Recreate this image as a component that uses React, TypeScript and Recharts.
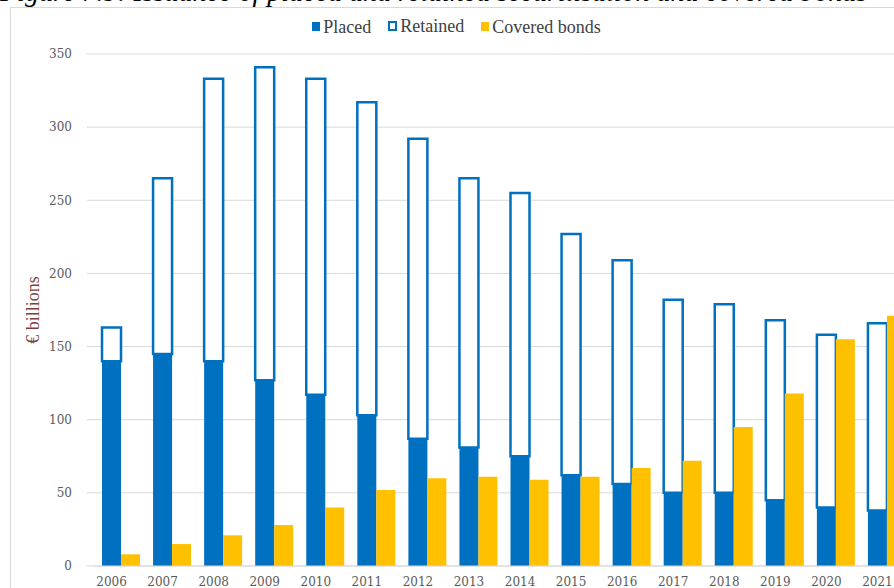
import React from "react";
import { BarChart, Bar, XAxis, YAxis, CartesianGrid } from "recharts";

// values in € billions
const years = ["2006", "2007", "2008", "2009", "2010", "2011", "2012", "2013", "2014", "2015", "2016", "2017", "2018", "2019", "2020", "2021"];
const placed = [140, 145, 140, 127, 117, 103, 87, 81, 75, 62, 56, 50, 50, 45, 40, 38];
const retained = [23, 120, 193, 214, 216, 214, 205, 184, 180, 165, 153, 132, 129, 123, 118, 128];
const covered = [8, 15, 21, 28, 40, 52, 60, 61, 59, 61, 67, 72, 95, 118, 155, 171];
const yTicks = [0, 50, 100, 150, 200, 250, 300, 350];

const data = years.map((year, i) => ({
  year,
  placed: placed[i],
  retained: retained[i],
  covered: covered[i],
}));

const BLUE = "#0070c0";
const GOLD = "#ffc000";
const GRID = "#d9d9d9";
const TEXT = "#595959";

const LegendItem = ({ label, fill, hollow }: { label: string; fill: string; hollow?: boolean }) => (
  <span style={{ display: "inline-flex", alignItems: "center", marginRight: 17 }}>
    <span
      style={{
        display: "inline-block",
        width: hollow ? 5 : 8,
        height: hollow ? 6 : 9,
        background: hollow ? "#fff" : fill,
        border: hollow ? `2px solid ${fill}` : "none",
        marginRight: 3,
      }}
    />
    <span>{label}</span>
  </span>
);

export default function App() {
  return (
    <div
      style={{
        position: "fixed",
        left: 0,
        top: 0,
        width: 894,
        height: 588,
        overflow: "hidden",
        background: "#fff",
      }}
    >
      {/* title, mostly cut off at the top edge */}
      <div
        style={{
          position: "absolute",
          left: 0,
          top: -22,
          fontFamily: "Liberation Serif",
          fontStyle: "italic",
          fontSize: 28,
          lineHeight: "28px",
          color: "#000",
          whiteSpace: "nowrap",
        }}
      >
        Figure 7.9: Issuance of placed and retained securitisation and covered bonds
      </div>
      {/* chart frame */}
      <div
        style={{
          position: "absolute",
          left: 10,
          top: 7,
          width: 1000,
          height: 1000,
          borderLeft: `1px solid ${GRID}`,
          borderTop: `1px solid ${GRID}`,
        }}
      />
      {/* legend */}
      <div
        style={{
          position: "absolute",
          left: 10,
          width: 910,
          top: 13,
          textAlign: "center",
          fontFamily: "Liberation Serif",
          fontSize: 18,
          color: "#404040",
          lineHeight: "24px",
        }}
      >
        <LegendItem label="Placed" fill={BLUE} />
        <LegendItem label="Retained" fill={BLUE} hollow />
        <LegendItem label="Covered bonds" fill={GOLD} />
      </div>
      <div style={{ position: "absolute", left: 0, top: 0 }}>
        <BarChart
          width={920}
          height={600}
          data={data}
          margin={{ top: 54, right: 8, left: 35, bottom: 4 }}
          barGap={0}
          barSize={19}
        >
          <CartesianGrid vertical={false} stroke={GRID} />
          <XAxis
            dataKey="year"
            interval={0}
            height={30}
            tickLine={false}
            tickSize={0}
            tickMargin={11}
            axisLine={{ stroke: GRID }}
            tick={{ fill: TEXT, fontSize: 12, fontFamily: "DejaVu Serif", dx: -9 }}
          />
          <YAxis
            domain={[0, 350]}
            ticks={yTicks}
            width={60}
            axisLine={false}
            tickLine={{ stroke: GRID }}
            tickSize={8}
            tickMargin={15}
            tick={{ fill: TEXT, fontSize: 12, fontFamily: "DejaVu Serif" }}
            label={{
              value: "€ billions",
              angle: -90,
              position: "insideLeft",
              offset: -2,
              style: { textAnchor: "middle", fill: "#7f3f3f", fontSize: 18, fontFamily: "Liberation Serif" },
            }}
          />
          <Bar dataKey="placed" stackId="a" fill={BLUE} isAnimationActive={false} />
          <Bar
            dataKey="retained"
            stackId="a"
            fill="#fff"
            stroke={BLUE}
            strokeWidth={2.5}
            isAnimationActive={false}
          />
          <Bar dataKey="covered" fill={GOLD} isAnimationActive={false} />
        </BarChart>
      </div>
    </div>
  );
}
